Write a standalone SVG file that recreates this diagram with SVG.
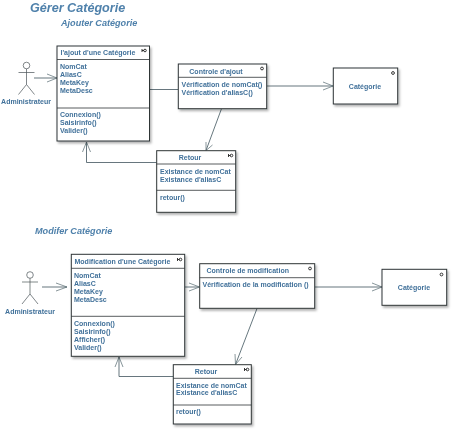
<svg xmlns="http://www.w3.org/2000/svg" width="454" height="431" viewBox="0 0 454 431">
<style>
text{font-family:"Liberation Sans",Arial,sans-serif;font-size:7px;font-weight:bold;fill:#41719a}
.h{font-size:12.600px;font-style:italic;fill:#4f81ab}
.s{font-size:9.100px;font-style:italic;fill:#4f81ab}
.m{text-anchor:middle}
.box{fill:#fff;stroke:#2f3436;stroke-width:1;filter:url(#sh)}
.ln{stroke:#2f3436;stroke-width:.8;fill:none}
.c{stroke:#55686f;stroke-width:.9;fill:none}
.a{stroke:#55686f;stroke-width:.7;fill:none}
.act{stroke:#4a5358;stroke-width:.7;fill:none}
.ic{stroke:#222;stroke-width:.9;fill:#fff}
</style>
<defs>
<filter id="sh" x="-10%" y="-10%" width="125%" height="125%"><feDropShadow dx="1.500" dy="2" stdDeviation="1.200" flood-color="#000" flood-opacity=".3"/></filter>
<filter id="soft" filterUnits="userSpaceOnUse" x="0" y="0" width="454" height="431"><feGaussianBlur stdDeviation=".3"/></filter>
<g id="actor"><circle cx="0" cy="-7" r="3.300" class="act"/><path d="M0-3.700V12M-8 0H8M0 12L-8 22M0 12L8 22" class="act"/></g>
<g id="icb"><circle cx="1" cy="0" r="1.300" class="ic"/><path d="M-2-1.500V1.500M-2 0H0" class="ic"/></g>
</defs>
<g filter="url(#soft)">
<text class="h" x="30" y="12">Gérer Catégorie</text>
<text class="s" x="61" y="26">Ajouter Catégorie</text>
<text class="s" x="35" y="234">Modifer Catégorie</text>

<g id="connectors">
<path class="c" d="M34 78H57"/><path class="a" d="M47 74L57 78L47 82"/>
<path class="c" d="M149.500 89.500H178"/>
<path class="c" d="M266.700 86H333"/><path class="a" d="M323 82L333 86L323 90"/>
<path class="c" d="M221.500 108.700L206 150.500"/><path class="a" d="M206 142L206 150.500L212.500 145"/>
<path class="c" d="M156.700 162.500H86.500V142"/><path class="a" d="M82.500 152L86.500 142L90.500 152"/>
<path class="c" d="M42 287H67"/><path class="a" d="M56 283L67 287L56 291"/>
<path class="c" d="M184.700 287H199.500"/><path class="a" d="M189 283L199.500 287L189 291"/>
<path class="c" d="M314.700 287H382"/><path class="a" d="M372 283L382 287L372 291"/>
<path class="c" d="M257 308.500L235.500 364.500"/><path class="a" d="M235 354L235.500 364.500L242 357"/>
<path class="c" d="M173.300 376.500H119V357"/><path class="a" d="M115 367L119 357L123 367"/>
</g>

<g id="actor1"><use href="#actor" x="26.500" y="72.500"/><text class="m" x="26" y="104">Administrateur</text></g>
<g id="actor2"><use href="#actor" x="30" y="282"/><text class="m" x="30" y="314">Administrateur</text></g>

<g id="ajout">
<rect class="box" x="57" y="46" width="92.500" height="95"/>
<path class="ln" d="M57 59.500H149.500M57 108H149.500"/>
<text x="60.500" y="55">l'ajout d'une Catégorie</text>
<use href="#icb" x="144" y="50.500"/>
<text x="60" y="69">NomCat</text><text x="60" y="77">AliasC</text><text x="60" y="85">MetaKey</text><text x="60" y="93">MetaDesc</text>
<text x="60" y="117">Connexion()</text><text x="60" y="125">Saisirinfo()</text><text x="60" y="133">Valider()</text>
</g>
<g id="controle-ajout">
<rect class="box" x="178.300" y="64" width="88.400" height="44.700"/>
<path class="ln" d="M178.300 77.300H266.700"/>
<text class="m" x="216" y="73.500">Controle d'ajout</text>
<circle class="ic" cx="262" cy="68.500" r="1.400"/>
<text x="181.500" y="87">Vérification de nomCat()</text><text x="181.500" y="95">Vérification d'aliasC()</text>
</g>
<g id="categorie1">
<rect class="box" x="333.300" y="68" width="64.400" height="36"/>
<circle class="ic" cx="393" cy="73" r="1.400"/>
<text class="m" x="365" y="88.500">Catégorie</text>
</g>
<g id="retour1">
<rect class="box" x="156.700" y="150.700" width="79" height="61.600"/>
<path class="ln" d="M156.700 164H235.700M156.700 190.300H235.700"/>
<text class="m" x="190" y="160">Retour</text>
<use href="#icb" x="230.500" y="155.500"/>
<text x="160" y="174">Existance de nomCat</text><text x="160" y="182">Existance d'aliasC</text>
<text x="160" y="200">retour()</text>
</g>
<g id="modif">
<rect class="box" x="71.300" y="254.300" width="113.400" height="102"/>
<path class="ln" d="M71.300 268.300H184.700M71.300 316.300H184.700"/>
<text x="74.500" y="263.500">Modification d'une Catégorie</text>
<use href="#icb" x="179.500" y="259.500"/>
<text x="74" y="278">NomCat</text><text x="74" y="286">AliasC</text><text x="74" y="294">MetaKey</text><text x="74" y="302">MetaDesc</text>
<text x="74" y="326">Connexion()</text><text x="74" y="334">Saisirinfo()</text><text x="74" y="342">Afficher()</text><text x="74" y="350">Valider()</text>
</g>
<g id="controle-modif">
<rect class="box" x="199.700" y="263.700" width="115" height="44.600"/>
<path class="ln" d="M199.700 277.700H314.700"/>
<text x="206.500" y="272.500">Controle de modification</text>
<circle class="ic" cx="310" cy="268.500" r="1.400"/>
<text x="202.500" y="287">Vérification de la modification ()</text>
</g>
<g id="categorie2">
<rect class="box" x="382" y="269.300" width="64.700" height="36"/>
<circle class="ic" cx="441.500" cy="274.500" r="1.400"/>
<text class="m" x="414" y="290">Catégorie</text>
</g>
<g id="retour2">
<rect class="box" x="173.300" y="364.700" width="78" height="59.300"/>
<path class="ln" d="M173.300 378.300H251.300M173.300 405H251.300"/>
<text class="m" x="206" y="373.500">Retour</text>
<use href="#icb" x="246.500" y="369.500"/>
<text x="176" y="387.500">Existance de nomCat</text><text x="176" y="395">Existance d'aliasC</text>
<text x="176" y="414">retour()</text>
</g>
</g>
</svg>
